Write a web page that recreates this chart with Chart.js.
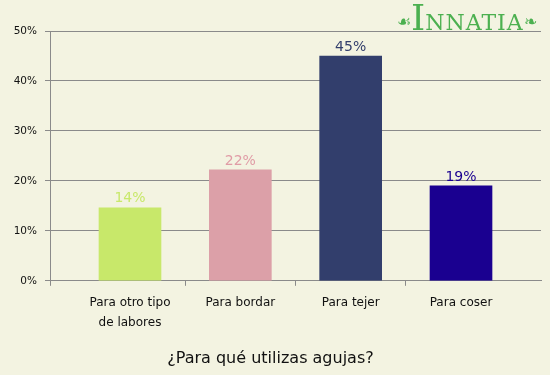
<!DOCTYPE html>
<html>
<head>
<meta charset="utf-8">
<script src="https://cdn.jsdelivr.net/npm/chart.js@4/dist/chart.umd.min.js"></script>
<style>
html,body{margin:0;padding:0;background:#f3f3e1;}
#wrap{position:relative;width:550px;height:375px;}
#logo{position:absolute;left:397px;top:0px;width:152px;height:36px;color:#4cb050;font-family:"DejaVu Serif",serif;white-space:nowrap;line-height:36px;}
#logo .big{font-size:36px;}
#logo .rest{font-size:22px;letter-spacing:1px;}
#logo .orn{font-size:16px;vertical-align:3px;}
</style>
</head>
<body>
<div id="wrap">
<canvas id="c" width="550" height="375"></canvas>
<div id="logo"><span class="orn">☙</span><span class="big">I</span><span class="rest">NNATIA</span><span class="orn">❧</span></div>
</div>
<script>
const categories = [["Para otro tipo","de labores"], "Para bordar", "Para tejer", "Para coser"];
const values = [14.6, 22.2, 45, 19];
const valueLabels = ["14%", "22%", "45%", "19%"];
const barColors = ["#c8e86a", "#dca0a8", "#323e6c", "#1a0090"];
const labelColors = ["#c8e86a", "#e09ca6", "#323e6c", "#1a0090"];
const yTicks = [0, 10, 20, 30, 40, 50];
const title = "¿Para qué utilizas agujas?";

const xMin = -0.725, xMax = 3.725;
const gridColor = "#8a8a8a";

const valueLabelPlugin = {
  id: "valueLabels",
  afterDatasetsDraw(chart) {
    const ctx = chart.ctx;
    const meta = chart.getDatasetMeta(0);
    ctx.save();
    ctx.font = "14px 'DejaVu Sans'";
    ctx.textAlign = "center";
    ctx.textBaseline = "bottom";
    meta.data.forEach((bar, i) => {
      ctx.fillStyle = labelColors[i];
      ctx.fillText(valueLabels[i], bar.x, bar.y - 2);
    });
    ctx.restore();
  }
};

new Chart(document.getElementById("c"), {
  type: "bar",
  data: {
    datasets: [{
      data: values.map((v, i) => ({x: i, y: v})),
      backgroundColor: barColors,
      borderWidth: 0,
      barThickness: 62
    }]
  },
  options: {
    responsive: false,
    animation: false,
    layout: {padding: {top: 31, right: 9, left: 0, bottom: 0}},
    plugins: {
      legend: {display: false},
      tooltip: {enabled: false},
      title: {
        display: true,
        text: title,
        position: "bottom",
        color: "#111",
        font: {family: "DejaVu Sans", size: 16, weight: "normal"},
        padding: {top: 10, bottom: 7}
      }
    },
    scales: {
      x: {
        type: "linear",
        min: xMin,
        max: xMax,
        offset: false,
        afterBuildTicks(scale) {
          scale.ticks = [xMin, 0, 0.5, 1, 1.5, 2, 2.5, 3].map(v => ({value: v}));
        },
        afterFit(scale) { scale.height = 58; },
        ticks: {
          autoSkip: false,
          maxRotation: 0,
          padding: 7,
          color: "#111",
          font: {family: "DejaVu Sans", size: 12, lineHeight: 1.65},
          callback(v) { return Number.isInteger(v) ? categories[v] : ""; }
        },
        grid: {
          offset: false,
          drawOnChartArea: false,
          drawTicks: true,
          tickLength: 5,
          color(ctx) {
            const v = ctx.tick && ctx.tick.value;
            return Number.isInteger(v) ? "rgba(0,0,0,0)" : gridColor;
          }
        },
        border: {display: true, color: gridColor}
      },
      y: {
        min: 0,
        max: 50,
        afterBuildTicks(scale) {
          scale.ticks = yTicks.map(v => ({value: v}));
        },
        afterFit(scale) { scale.width = 50; },
        ticks: {
          padding: 8,
          color: "#111",
          font: {family: "DejaVu Sans", size: 10.5},
          callback(v) { return v + "%"; }
        },
        grid: {color: gridColor, tickLength: 5},
        border: {display: true, color: gridColor}
      }
    }
  },
  plugins: [valueLabelPlugin]
});
</script>
</body>
</html>
